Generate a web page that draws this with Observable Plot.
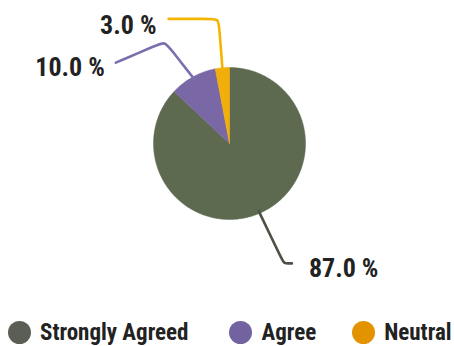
<!DOCTYPE html>
<html>
<head>
<meta charset="utf-8">
<script src="https://cdn.jsdelivr.net/npm/d3@7"></script>
<script src="https://cdn.jsdelivr.net/npm/@observablehq/plot@0.6"></script>
<style>
  html, body { margin: 0; padding: 0; background: #fff; width: 454px; height: 346px; overflow: hidden; }
  #chart svg { display: block; }
  .legend { display: flex; align-items: center; height: 24px; padding-top: 6px; margin-left: 8px;
    font-family: "Roboto Condensed", "Liberation Sans Narrow", Roboto, sans-serif; font-weight: 700; font-size: 23px; color: #222; }
  .legend .item { display: flex; align-items: center; gap: 9px; white-space: nowrap; }
  .legend .dot { width: 23px; height: 23px; border-radius: 50%; display: inline-block; }
</style>
</head>
<body>
<div id="chart"></div>
<div class="legend" id="legend"></div>
<script>
// ---- data ----
const categories = ["Strongly Agreed", "Agree", "Neutral"];
const percentages = [87.0, 10.0, 3.0];
const labels = ["87.0 %", "10.0 %", "3.0 %"];
const sliceColors = ["#5d6a50", "#7a68a6", "#f2ae0a"];
const leaderColors = ["#4b5145", "#7a6fae", "#f4b400"];
const legendColors = ["#5b5e55", "#7262a0", "#e39200"];

// ---- layout (pixels) ----
const R = 76;
const W = 454, H = 314;
const cx = 229, cy = 143;
const legendGaps = [41, 36, 0];
const leaderLayout = [
  {elbow: [25, 52], end: [8, 0], label: [17, 5], anchor: "start"},
  {elbow: [-29, -37], end: [-49, 21], label: [-11, 5], anchor: "end"},
  {elbow: [-4, -51], end: [-50, 0], label: [-12, 7], anchor: "end"}
];

const data = categories.map((c, i) => ({category: c, value: percentages[i], label: labels[i]}));
const arcs = d3.pie().sort(null).value(d => d.value).startAngle(0).endAngle(2 * Math.PI)(data);

const pt = (r, a) => [r * Math.sin(a), -r * Math.cos(a)];

// slice polygons
const slicePts = [];
arcs.forEach(a => {
  const cat = a.data.category;
  slicePts.push({cat, x: 0, y: 0});
  const n = Math.max(2, Math.ceil((a.endAngle - a.startAngle) / (Math.PI / 180)));
  for (let k = 0; k <= n; k++) {
    const ang = a.startAngle + (a.endAngle - a.startAngle) * k / n;
    const [x, y] = pt(R, ang);
    slicePts.push({cat, x, y});
  }
  slicePts.push({cat, x: 0, y: 0});
});

// leader lines
const leaderPts = [];
const labelPts = [];
arcs.forEach((a, i) => {
  const cat = a.data.category;
  const L = leaderLayout[i];
  const mid = (a.startAngle + a.endAngle) / 2;
  const e = pt(R - 2, mid);
  const el = [e[0] + L.elbow[0], e[1] + L.elbow[1]];
  const en = [el[0] + L.end[0], el[1] + L.end[1]];
  const lerp = (p, q, t) => [p[0] + (q[0] - p[0]) * t, p[1] + (q[1] - p[1]) * t];
  const d1 = Math.hypot(L.elbow[0], L.elbow[1]), d2 = Math.hypot(L.end[0], L.end[1]);
  const rr = Math.min(9, d1 * 0.4, d2 * 0.6);
  const b1 = lerp(el, e, rr / d1), b2 = lerp(el, en, rr / d2);
  [e, b1, el, b2, en].forEach(p => leaderPts.push({cat, x: p[0], y: p[1]}));
  labelPts.push({cat, text: a.data.label, x: en[0] + L.label[0], y: en[1] + L.label[1], anchor: L.anchor});
});

const font = "'Roboto Condensed', 'Liberation Sans Narrow', Roboto, sans-serif";
const chart = Plot.plot({
  width: W, height: H,
  margin: 0,
  x: {domain: [-cx, W - cx], range: [0, W], axis: null},
  y: {domain: [-cy, H - cy], range: [0, H], axis: null},
  color: {domain: categories, range: sliceColors},
  marks: [
    Plot.line(slicePts, {x: "x", y: "y", z: "cat", fill: "cat", stroke: "cat", strokeWidth: 0.5, curve: "linear"}),
    Plot.line(leaderPts, {x: "x", y: "y", z: "cat", stroke: d => leaderColors[categories.indexOf(d.cat)], strokeWidth: 2.6, curve: "basis", strokeLinecap: "round"}),
    Plot.text(labelPts.filter(d => d.anchor === "start"), {x: "x", y: "y", text: "text", textAnchor: "start", fontSize: 26, fontWeight: "bold", fontFamily: font, fill: "#222"}),
    Plot.text(labelPts.filter(d => d.anchor === "end"), {x: "x", y: "y", text: "text", textAnchor: "end", fontSize: 26, fontWeight: "bold", fontFamily: font, fill: "#222"})
  ]
});
document.getElementById("chart").appendChild(chart);

const legend = document.getElementById("legend");
categories.forEach((c, i) => {
  const item = document.createElement("span");
  item.className = "item";
  item.style.marginRight = legendGaps[i] + "px";
  const dot = document.createElement("span");
  dot.className = "dot";
  dot.style.background = legendColors[i];
  const t = document.createElement("span");
  t.textContent = c;
  item.appendChild(dot);
  item.appendChild(t);
  legend.appendChild(item);
});
</script>
</body>
</html>
